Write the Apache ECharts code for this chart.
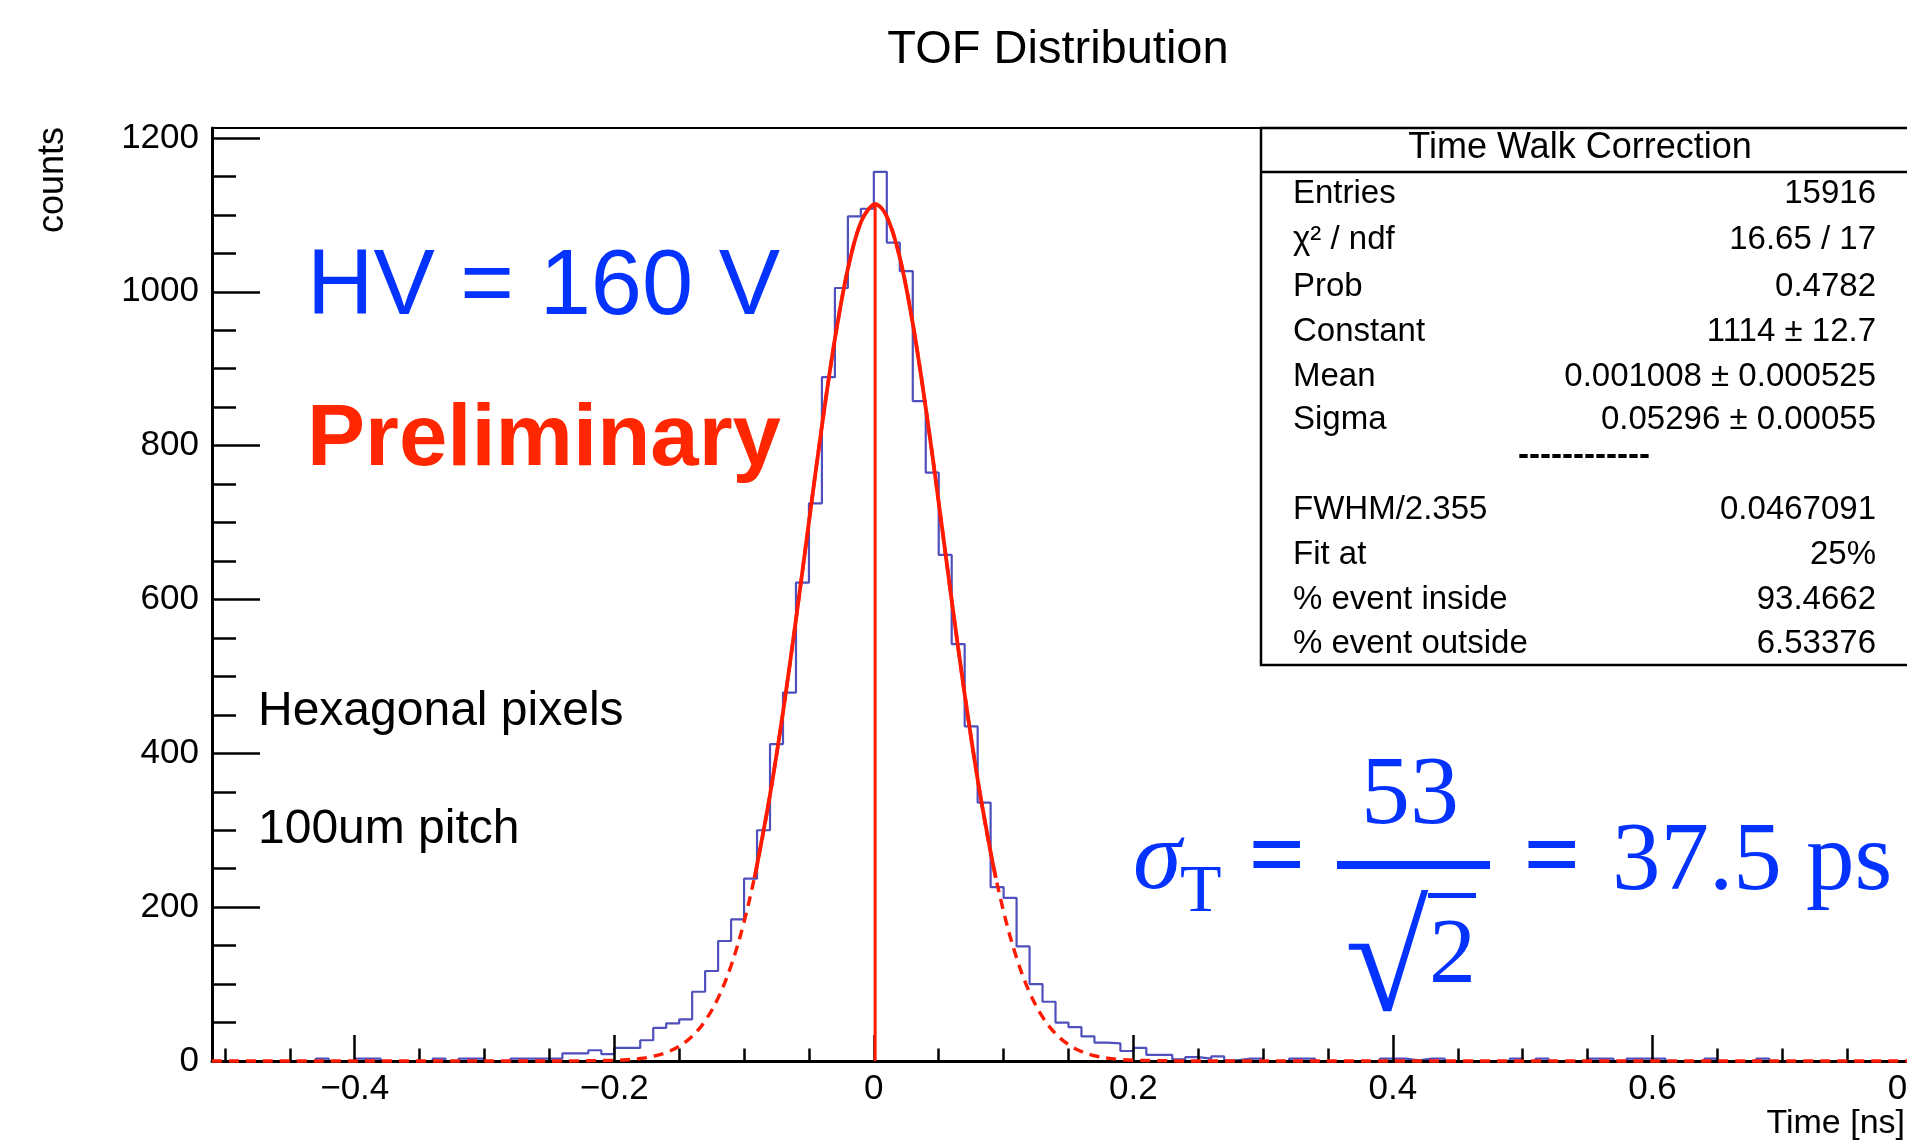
<!DOCTYPE html>
<html>
<head>
<meta charset="utf-8">
<script src="https://cdn.jsdelivr.net/npm/echarts@6/dist/echarts.min.js"></script>
<style>
html,body{margin:0;padding:0;background:#fff;}
#chart{width:1907px;height:1141px;}
</style>
</head>
<body>
<div id="chart"></div>
<script>
// ---------------- data ----------------
const binStart = -0.51;
const binWidth = 0.01;
// histogram counts, bins of 0.01 ns starting at -0.51
const counts = [
  0, 0, 0, 0, 0, 0, 0, 0, 3, 0,      // -0.51 .. -0.42
  0, 3, 3, 0, 0, 0, 0, 3, 0, 3,      // -0.41 .. -0.32
  3, 0, 0, 3, 3, 3, 3, 10, 10, 14,   // -0.31 .. -0.22
  9, 17, 17, 27, 43, 49, 54, 90, 117, 156,     // -0.21 .. -0.12
  184, 237, 300, 412, 479, 622, 725, 889, 1005, 1098, // -0.11 .. -0.02
  1108, 1156, 1064, 1027, 858, 765, 658, 542, 435, 336, // -0.01 .. 0.08
  226, 212, 149, 100, 77, 50, 44, 32, 24, 23,  // 0.09 .. 0.18
  13, 17, 8, 8, 2, 5, 3, 6, 1, 3,   // 0.19 .. 0.28
  3, 0, 0, 3, 3, 0, 0, 0, 0, 0,     // 0.29 .. 0.38
  3, 3, 1, 3, 3, 0, 0, 0, 0, 0,     // 0.39 .. 0.48
  3, 0, 3, 0, 0, 0, 3, 3, 0, 3,     // 0.49 .. 0.58
  3, 3, 0, 0, 0, 3, 0, 0, 0, 3,     // 0.59 .. 0.68
  0, 0, 0, 0, 0, 0, 0, 0, 0, 0, 0   // 0.69 .. 0.79
];
// gaussian fit curve
const fitX = [-0.51, -0.25, -0.20, -0.19, -0.18, -0.17, -0.16, -0.15, -0.14, -0.13, -0.12, -0.11,
  -0.10, -0.09, -0.08, -0.07, -0.06, -0.05, -0.04, -0.03, -0.02, -0.01, 0.00, 0.001, 0.01,
  0.02, 0.03, 0.04, 0.05, 0.06, 0.07, 0.08, 0.09, 0.10, 0.11, 0.12, 0.13, 0.14, 0.15,
  0.16, 0.17, 0.18, 0.19, 0.20, 0.25, 0.80];
const fitY = [0, 0, 0.8, 1.7, 3.2, 6.1, 11.0, 19.1, 32.2, 52.2, 81.9, 123.9,
  180.8, 254.7, 346.1, 453.5, 573.9, 700.6, 825.5, 938.7, 1029.8, 1090.3, 1113.8, 1114, 1098.0,
  1044.6, 958.9, 849.4, 726.1, 599.0, 476.8, 366.1, 271.4, 194.2, 134.0, 89.2, 57.3, 35.5, 21.3,
  12.3, 6.8, 3.7, 1.9, 1.0, 0, 0];
const fitRangeX = [-0.092, 0.094];
const fitRangeY = [238, 238];
const meanX = 0.001;
const peakY = 1114;

const xMajor = [-0.4, -0.2, 0, 0.2, 0.4, 0.6, 0.8];
const xMinor = [-0.5, -0.45, -0.35, -0.3, -0.25, -0.15, -0.1, -0.05, 0.05, 0.1, 0.15, 0.25, 0.3, 0.35, 0.45, 0.5, 0.55, 0.65, 0.7, 0.75];
const yMajor = [0, 200, 400, 600, 800, 1000, 1200];
const yMinor = [50, 100, 150, 250, 300, 350, 450, 500, 550, 650, 700, 750, 850, 900, 950, 1050, 1100, 1150];

const statsLabels = ['Entries', 'χ² / ndf', 'Prob', 'Constant', 'Mean', 'Sigma', '', 'FWHM/2.355', 'Fit at', '% event inside', '% event outside'];
const statsValues = ['15916', '16.65 / 17', '0.4782', '1114 ± 12.7', '0.001008 ± 0.000525', '0.05296 ± 0.00055', '', '0.0467091', '25%', '93.4662', '6.53376'];

// ---------------- build ----------------
const histData = counts.map((c, i) => [Number((binStart + i * binWidth).toFixed(2)), c]);
histData.push([Number((binStart + counts.length * binWidth).toFixed(2)), counts[counts.length - 1]]);
const fitData = fitX.map((x, i) => [x, fitY[i]]);
const fitSolid = [[fitRangeX[0], fitRangeY[0]]]
  .concat(fitData.filter(p => p[0] > fitRangeX[0] && p[0] < fitRangeX[1]))
  .concat([[fitRangeX[1], fitRangeY[1]]]);

const SANS = 'Liberation Sans, Arial, Helvetica, sans-serif';
const SERIF = 'Liberation Serif, Times New Roman, serif';
const BLUE = '#0433ff';
const RED = '#ff2600';
const LINE_RED = '#ff1a00';
const fmtX = v => (v < 0 ? '\u2212' : '') + Math.abs(v);
const fmtY = v => String(v);

const statsRowsY = [194, 240, 287, 332, 376.5, 419.5, 456, 510, 555, 599.5, 644];
const statsGraphics = [];
statsLabels.forEach((t, i) => {
  if (t) statsGraphics.push({type: 'text', x: 1293, y: statsRowsY[i], z: 21,
    style: {text: t, fill: '#000', fontSize: 33, fontFamily: SANS, textAlign: 'left', textVerticalAlign: 'middle'}});
});
statsValues.forEach((t, i) => {
  if (t) statsGraphics.push({type: 'text', x: 1876, y: statsRowsY[i], z: 21,
    style: {text: t, fill: '#000', fontSize: 33, fontFamily: SANS, textAlign: 'right', textVerticalAlign: 'middle'}});
});
statsGraphics.push({type: 'text', x: 1584, y: statsRowsY[6], z: 21,
  style: {text: '------------', fill: '#000', fontSize: 33, fontWeight: 'bold', fontFamily: SANS, textAlign: 'center', textVerticalAlign: 'middle'}});

const chart = echarts.init(document.getElementById('chart'), null, {renderer: 'canvas'});
const option = {
  animation: false,
  backgroundColor: '#ffffff',
  grid: {left: 212, top: 128, width: 1700, height: 933, show: true, borderColor: '#000', borderWidth: 2,
    backgroundColor: 'transparent', containLabel: false, outerBoundsMode: 'none'},
  xAxis: [
    {type: 'value', position: 'bottom', min: -0.51, max: 0.8, z: 2,
      axisLine: {onZero: false, lineStyle: {color: '#000', width: 3}},
      axisTick: {inside: true, length: 26, customValues: xMajor, lineStyle: {color: '#000', width: 2.5}},
      axisLabel: {customValues: xMajor, formatter: fmtX, margin: 11, fontSize: 35, fontFamily: SANS, color: '#000'},
      splitLine: {show: false}},
    {type: 'value', position: 'bottom', offset: 0, min: -0.51, max: 0.8, z: 2,
      axisLine: {show: false, onZero: false},
      axisTick: {inside: true, length: 12.5, customValues: xMinor, lineStyle: {color: '#000', width: 2.5}},
      axisLabel: {show: false},
      splitLine: {show: false}}
  ],
  yAxis: [
    {type: 'value', position: 'left', min: 0, max: 1213, z: 2,
      axisLine: {show: true, onZero: false, lineStyle: {color: '#000', width: 3}},
      axisTick: {show: true, inside: true, length: 48, customValues: yMajor, lineStyle: {color: '#000', width: 2.5}},
      axisLabel: {customValues: yMajor, formatter: fmtY, margin: 13, fontSize: 35, fontFamily: SANS, color: '#000'},
      splitLine: {show: false}},
    {type: 'value', position: 'left', offset: 0, min: 0, max: 1213, z: 2,
      axisLine: {show: false, onZero: false},
      axisTick: {show: true, inside: true, length: 24, customValues: yMinor, lineStyle: {color: '#000', width: 2.5}},
      axisLabel: {show: false},
      splitLine: {show: false}}
  ],
  series: [
    {type: 'line', name: 'hist', data: histData, step: 'end', showSymbol: false, symbol: 'none', z: 1,
      xAxisIndex: 0, yAxisIndex: 0, lineStyle: {color: '#4f4fbd', width: 2.2}, clip: false},
    {type: 'line', name: 'fitDashed', data: fitData, smooth: 0.35, showSymbol: false, symbol: 'none', z: 3,
      lineStyle: {color: LINE_RED, width: 3.4, type: [10, 7]}, clip: false},
    {type: 'line', name: 'fitSolid', data: fitSolid, smooth: 0.35, showSymbol: false, symbol: 'none', z: 4,
      lineStyle: {color: LINE_RED, width: 3.8}, clip: false},
    {type: 'line', name: 'mean', data: [[meanX, 0], [meanX, peakY]], showSymbol: false, symbol: 'none', z: 4,
      lineStyle: {color: LINE_RED, width: 3}, clip: false}
  ],
  graphic: [
    {type: 'text', x: 1058, y: 50, z: 20, style: {text: 'TOF Distribution', fill: '#000', fontSize: 47, fontFamily: SANS, textAlign: 'center', textVerticalAlign: 'middle'}},
    {type: 'text', x: 53, y: 127, rotation: Math.PI / 2, z: 20, style: {text: 'counts', fill: '#000', fontSize: 36, fontFamily: SANS, textAlign: 'right', textVerticalAlign: 'middle'}},
    {type: 'text', x: 1905, y: 1124, z: 20, style: {text: 'Time [ns]', fill: '#000', fontSize: 34, fontFamily: SANS, textAlign: 'right', textVerticalAlign: 'middle'}},
    {type: 'text', x: 307, y: 289, z: 20, style: {text: 'HV = 160 V', fill: BLUE, fontSize: 92, fontFamily: SANS, textAlign: 'left', textVerticalAlign: 'middle'}},
    {type: 'text', x: 307, y: 441, z: 20, style: {text: 'Preliminary', fill: RED, fontSize: 87, fontWeight: 'bold', fontFamily: SANS, textAlign: 'left', textVerticalAlign: 'middle'}},
    {type: 'text', x: 258, y: 712, z: 20, style: {text: 'Hexagonal pixels', fill: '#000', fontSize: 48, fontFamily: SANS, textAlign: 'left', textVerticalAlign: 'middle'}},
    {type: 'text', x: 258, y: 830, z: 20, style: {text: '100um pitch', fill: '#000', fontSize: 48, fontFamily: SANS, textAlign: 'left', textVerticalAlign: 'middle'}},
    // formula
    {type: 'text', x: 1133, y: 862, z: 20, style: {text: 'σ', fill: BLUE, fontSize: 98, fontStyle: 'italic', fontFamily: SERIF, textAlign: 'left', textVerticalAlign: 'middle'}},
    {type: 'text', x: 1180, y: 893, z: 20, style: {text: 'T', fill: BLUE, fontSize: 68, fontFamily: SERIF, textAlign: 'left', textVerticalAlign: 'middle'}},
    {type: 'text', x: 1277, y: 862, z: 20, style: {text: '=', fill: BLUE, fontSize: 100, fontWeight: 'bold', fontFamily: SERIF, textAlign: 'center', textVerticalAlign: 'middle'}},
    {type: 'text', x: 1410, y: 797, z: 20, style: {text: '53', fill: BLUE, fontSize: 98, fontFamily: SERIF, textAlign: 'center', textVerticalAlign: 'middle'}},
    {type: 'rect', z: 20, shape: {x: 1337, y: 861, width: 153, height: 8}, style: {fill: BLUE}},
    {type: 'text', x: 1345, y: 970, z: 20, style: {text: '√', fill: BLUE, fontSize: 152, fontFamily: SERIF, textAlign: 'left', textVerticalAlign: 'middle'}},
    {type: 'rect', z: 20, shape: {x: 1428, y: 893, width: 48, height: 5}, style: {fill: BLUE}},
    {type: 'text', x: 1429, y: 957, z: 20, style: {text: '2', fill: BLUE, fontSize: 94, fontFamily: SERIF, textAlign: 'left', textVerticalAlign: 'middle'}},
    {type: 'text', x: 1552, y: 862, z: 20, style: {text: '=', fill: BLUE, fontSize: 100, fontWeight: 'bold', fontFamily: SERIF, textAlign: 'center', textVerticalAlign: 'middle'}},
    {type: 'text', x: 1612, y: 864, z: 20, style: {text: '37.5 ps', fill: BLUE, fontSize: 97, fontFamily: SERIF, textAlign: 'left', textVerticalAlign: 'middle'}},
    // stats box
    {type: 'rect', z: 19, shape: {x: 1261, y: 128, width: 700, height: 537}, style: {fill: '#fff', stroke: '#000', lineWidth: 2.5}},
    {type: 'line', z: 20, shape: {x1: 1261, y1: 172, x2: 1907, y2: 172}, style: {stroke: '#000', lineWidth: 2.5}},
    {type: 'text', x: 1580, y: 148, z: 21, style: {text: 'Time Walk Correction', fill: '#000', fontSize: 36, fontFamily: SANS, textAlign: 'center', textVerticalAlign: 'middle'}}
  ].concat(statsGraphics)
};
chart.setOption(option);
</script>
</body>
</html>
